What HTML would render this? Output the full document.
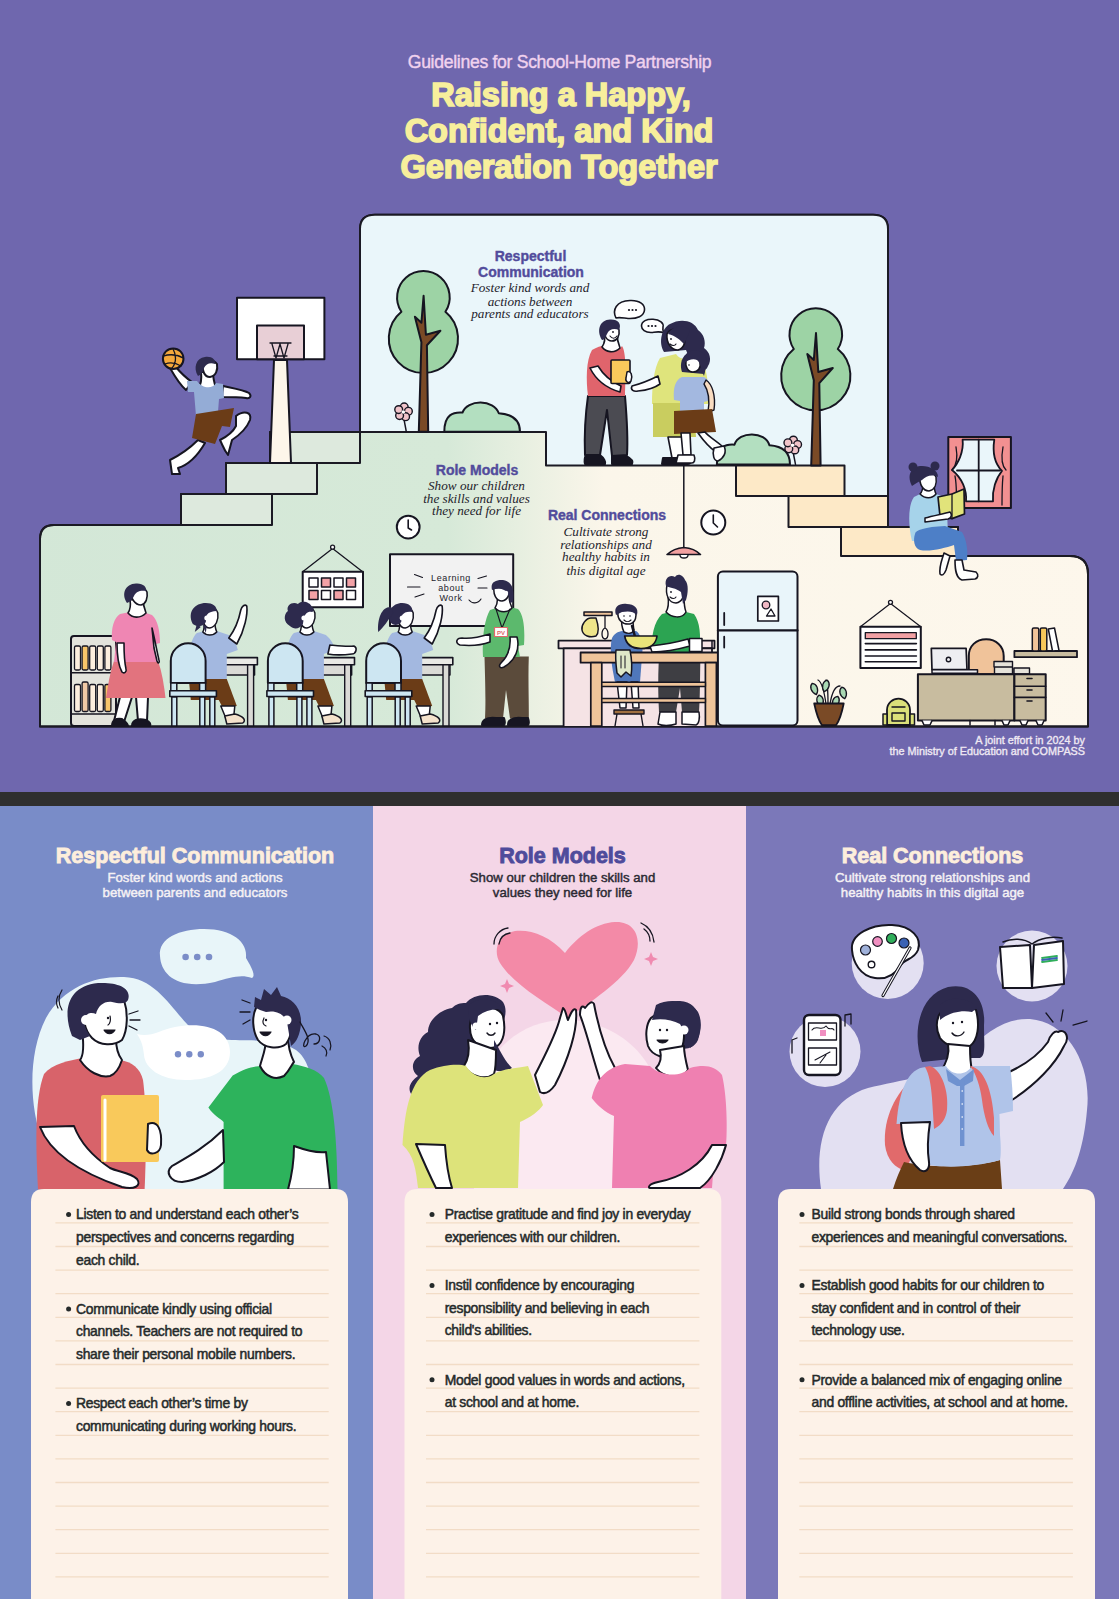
<!DOCTYPE html>
<html><head><meta charset="utf-8">
<style>
html,body{margin:0;padding:0;width:1119px;height:1599px;overflow:hidden;background:#6f67ae;}
svg{display:block;position:absolute;left:0;top:0;}
text{font-family:"Liberation Sans",sans-serif;}
.hd{font-weight:bold;}
.scr text{font-family:"Liberation Serif",serif;font-style:italic;}
.bl{font-size:13.9px;fill:#252a2a;letter-spacing:-0.28px;stroke:#252a2a;stroke-width:0.5px;}
</style></head>
<body>
<svg width="1119" height="1599" viewBox="0 0 1119 1599">
<defs>
<linearGradient id="gfloor" x1="0" y1="0" x2="1119" y2="0" gradientUnits="userSpaceOnUse">
<stop offset="0" stop-color="#d3e7d7"/><stop offset="0.40" stop-color="#d6e9d8"/><stop offset="0.54" stop-color="#fbf6ea"/><stop offset="1" stop-color="#fdf7ec"/>
</linearGradient>
</defs>
<!-- top bg -->
<rect x="0" y="0" width="1119" height="792" fill="#6f67ae"/>
<rect x="0" y="792" width="1119" height="14" fill="#2f2f2f"/>
<!-- columns -->
<rect x="0" y="806" width="373" height="793" fill="#798cc8"/>
<rect x="373" y="806" width="373" height="793" fill="#f4d6e7"/>
<rect x="746" y="806" width="373" height="793" fill="#7b78b9"/>

<!-- header text -->
<text x="559.5" y="68" text-anchor="middle" font-size="17.6" letter-spacing="-0.3" fill="#f1d2ee" stroke="#f1d2ee" stroke-width="0.4">Guidelines for School-Home Partnership</text>
<g class="hd" font-size="32.5" fill="#f7ef9c" stroke="#f7ef9c" stroke-width="1.6" text-anchor="middle">
<text x="561" y="105.5">Raising a Happy,</text>
<text x="559" y="142">Confident, and Kind</text>
<text x="559" y="177.5">Generation Together</text>
</g>

<!-- SCENE -->
<g id="scene" stroke="#1b1a24" stroke-width="2" stroke-linejoin="round" stroke-linecap="round">
<!-- whole building fill -->
<path d="M40,726.5 V539 Q40,525 54,525 H181 V494 H226 V463 H270 V432 H360 V229 Q360,214.7 375,214.7 H873 Q888,214.7 888,229 V527 H958 V556 H1070 Q1088,556 1088,574 V726.5 Z" fill="url(#gfloor)"/>
<!-- sky -->
<path d="M360,432 V229 Q360,214.7 375,214.7 H873 Q888,214.7 888,229 V496 H844.5 V465.6 H546 V432 Z" fill="#eaf6fa" stroke="none"/>
<!-- left steps -->
<path d="M181,525 V494 H272 V525 Z" fill="#dde9dd"/>
<path d="M226,494 V463 H317 V494 Z" fill="#dde9dd"/>
<path d="M270,463 V432 H360 V463 Z" fill="#dde9dd"/>
<!-- right steps -->
<path d="M736,496 V465.6 H844.5 V496 Z" fill="#fde9c7"/>
<path d="M788.5,527 V496 H888 V527 Z" fill="#fde9c7"/>
<path d="M841,556 V527 H958 V556 Z" fill="#fde9c7"/>
<!-- platform line -->
<path d="M360,432 H546 V465.6 H736" fill="none"/>
<!-- outline again on top -->
<path d="M40,726.5 V539 Q40,525 54,525 H181 M360,432 V229 Q360,214.7 375,214.7 H873 Q888,214.7 888,229 V496 M958,556 H1070 Q1088,556 1088,574 V726.5 H40" fill="none"/>
</g>

<!--SCENE_A-->
<g id="sceneA" stroke="#161521" stroke-width="2" stroke-linejoin="round" stroke-linecap="round">
<!-- hoop -->
<rect x="237" y="297.7" width="87.4" height="61.5" fill="#ffffff"/>
<rect x="257" y="325.6" width="47" height="33.6" fill="#e8cfd6"/>
<path d="M274,360 L270,463 L291,463 L287,360 Z" fill="#fdf6ea"/>
<path d="M270,343 H291 M272,344 L276,358 L280,344 L284,358 L288,344 M274,356 H287" fill="none" stroke-width="1.3"/>
<!-- player -->
<path d="M186,390 C180,385 174,375 170,368 C168,364 172,362 175,366 C180,372 186,378 192,382 Z" fill="#ffffff"/>
<circle cx="173.2" cy="358.7" r="10.3" fill="#f5a93c"/>
<path d="M163,356 C170,354 178,355 183,358 M173,349 C176,354 177,362 172,368 M165,364 C170,362 176,363 181,366" fill="none" stroke-width="1.3"/>
<path d="M223,386 C232,388 244,390 249,393 C252,396 250,399 246,398 C238,397 230,397 222,397 Z" fill="#ffffff"/>
<path d="M201,372 C202,380 200,386 198,389 C204,394 212,394 216,388 C214,382 213,376 213,372 Z" fill="#ffffff"/>
<path d="M203,364 C207,358 214,360 217,364 C218,370 216,376 210,377 C204,377 202,370 203,364 Z" fill="#ffffff"/>
<path d="M198,376 C193,368 196,358 205,357 C212,356 216,360 215,364 C210,362 206,364 204,368 C203,372 202,374 198,376 Z" fill="#2d2a4d" stroke="none"/>
<path d="M187,381 L197,381 C202,388 212,390 216,383 L223,384 L224,398 L219,399 L218,412 L196,416 L194,392 L188,392 Z" fill="#94acd6" stroke="none"/>
<path d="M172,474 L170,460 C180,455 190,448 198,440 L205,443 C198,455 188,465 178,468 L180,474 Z" fill="#ffffff"/>
<path d="M236,416 C244,410 252,412 250,420 C246,430 238,436 232,440 L228,455 C224,450 223,446 220,440 C228,436 234,430 236,426 Z" fill="#ffffff"/>
<path d="M196,414 L234,408 L230,427 L222,426 L215,444 L192,438 Z" fill="#6b3c17" stroke="none"/>
</g>
<!--/SCENE_A-->
<!--SCENE_B-->
<g id="sceneB" stroke="#161521" stroke-width="2" stroke-linejoin="round" stroke-linecap="round">
<path d="M401.4,311.8 A26.3,26.3 0 1 1 445.4,311.8 A34.6,34.6 0 1 1 401.4,311.8 Z" fill="#9dd3a5"/>
<path d="M418.79999999999995,431.8 L421.4,342.2 L414.9,316.8 L421.4,322.8 L423.59999999999997,295.8 L425.9,334.8 L440.4,330.8 L426.9,345.2 L428.2,431.8 Z" fill="#7a4a26"/><path d="M403.3,415 C404.3,422 405.3,425.8 406.3,431.8" fill="none" stroke-width="1.5"/><circle cx="404.2" cy="406.9" r="3.9" fill="#f0c3c9" stroke-width="1.4"/><circle cx="408.4" cy="411.3" r="3.9" fill="#f0c3c9" stroke-width="1.4"/><circle cx="405.6" cy="416.7" r="3.9" fill="#f0c3c9" stroke-width="1.4"/><circle cx="399.6" cy="415.6" r="3.9" fill="#f0c3c9" stroke-width="1.4"/><circle cx="398.7" cy="409.6" r="3.9" fill="#f0c3c9" stroke-width="1.4"/><circle cx="403.3" cy="412" r="1.8" fill="#ffffff" stroke="none"/><path d="M444.3,431.8 C444.3,414.2 453.384,411.96000000000004 462.468,412.6 C467.01,399.16 494.262,399.16 498.804,413.24 C512.4300000000001,414.2 520,420.6 520,431.8 Z" fill="#b3dfc0"/><path d="M793.8,349 A26.3,26.3 0 1 1 837.8,349 A34.6,34.6 0 1 1 793.8,349 Z" fill="#9dd3a5"/>
<path d="M811.1999999999999,465.6 L813.8,380.2 L807.3,354 L813.8,360 L816.0,333 L818.3,372 L832.8,368 L819.3,383.2 L820.5999999999999,465.6 Z" fill="#7a4a26"/><path d="M792.5,448.2 C793.5,455.2 794.5,458.5 795.5,464.5" fill="none" stroke-width="1.5"/><circle cx="793.4" cy="440.1" r="3.9" fill="#f0c3c9" stroke-width="1.4"/><circle cx="797.6" cy="444.5" r="3.9" fill="#f0c3c9" stroke-width="1.4"/><circle cx="794.8" cy="449.9" r="3.9" fill="#f0c3c9" stroke-width="1.4"/><circle cx="788.8" cy="448.8" r="3.9" fill="#f0c3c9" stroke-width="1.4"/><circle cx="787.9" cy="442.8" r="3.9" fill="#f0c3c9" stroke-width="1.4"/><circle cx="792.5" cy="445.2" r="1.8" fill="#ffffff" stroke="none"/><path d="M716.9,464.5 C716.9,446.35 725.672,444.04 734.444,444.7 C738.8299999999999,430.84 765.146,430.84 769.532,445.36 C782.69,446.35 790,452.95 790,464.5 Z" fill="#b3dfc0"/>
<!-- speech bubbles -->
<path d="M616,318 C612,310 616,301 630,300.5 C640,300 645,305 644.5,310 C644,316 637,319 628,318.5 C623,318 619,317 616,318 Z" fill="#ffffff" stroke-width="1.6"/>
<path d="M664,333 C660,331 656,332 652,332.5 C645,333 641.5,329 641.5,326 C641.5,321 647,319 653,319.3 C660,319.6 664,323 663,327 C662.5,329 663,331 664,333 Z" fill="#ffffff" stroke-width="1.6"/>
<g fill="#161521" stroke="none"><circle cx="629" cy="310" r="1.1"/><circle cx="632.5" cy="310" r="1.1"/><circle cx="636" cy="310" r="1.1"/><circle cx="648.5" cy="326" r="1.1"/><circle cx="652" cy="326" r="1.1"/><circle cx="655.5" cy="326" r="1.1"/></g>
<!-- man -->
<path d="M585,455 C584,430 586,410 588,396 L625,396 C627,420 628,440 627,455 L612,456 L607,410 L600,455 Z" fill="#4b4b52"/>
<path d="M586,455 L600,455 C604,458 606,462 605,464 L585,464 C584,460 585,457 586,455 Z M612,456 L626,456 C632,459 633,462 632,464 L612,464 Z" fill="#161521"/>
<path d="M588,396 C586,380 586,360 592,350 C598,346 604,345 608,346 C612,352 618,352 622,346 C626,352 626,370 625,396 Z" fill="#e0646c" stroke="none"/>
<path d="M590,368 C596,380 606,388 620,392 L621,386 C612,382 604,376 598,366 Z" fill="#ffffff" stroke-width="1.6"/>
<path d="M604,334 C606,340 604,344 602,347 C606,352 614,354 620,348 C618,343 617,338 617,333 Z" fill="#ffffff" stroke-width="1.6"/>
<path d="M605,328 C609,323 617,324 619,330 C620,336 617,341 612,341 C606,341 603,334 605,328 Z" fill="#ffffff" stroke-width="1.6"/>
<path d="M602,340 C596,330 600,320 610,319.5 C618,319 622,324 619,330 C614,328 609,329 607,334 C605,338 604,340 602,340 Z" fill="#2d2a4d" stroke="none"/><circle cx="613" cy="332" r="0.9" fill="#161521" stroke="none"/><path d="M610,336 C612,339 615,339 617,336" fill="none" stroke-width="1.1"/>
<rect x="611" y="360" width="19" height="23.5" rx="1" fill="#f9c95b" stroke-width="1.6"/>
<path d="M627,372 C631,370 633,376 631,381 C629,384 625,382 626,378 Z" fill="#ffffff" stroke-width="1.5"/>
<!-- woman -->
<path d="M664,352 C658,342 662,328 670,324 C680,318 694,320 698,330 C704,334 706,342 704,348 C710,352 712,360 708,366 C706,372 700,372 694,370 L686,350 Z" fill="#2d2a4d" stroke="none"/>
<path d="M667,334 C670,328 680,327 684,334 C686,342 684,348 678,350 C672,350 666,344 667,334 Z" fill="#ffffff" stroke-width="1.6"/>
<path d="M668,334 C672,326 682,324 690,330 C688,336 686,340 684,344 C680,340 676,336 668,334 Z" fill="#2d2a4d" stroke="none"/>
<circle cx="671" cy="339" r="0.9" fill="#161521" stroke="none"/><path d="M670,344 C672,346 675,346 676,344" fill="none" stroke-width="1.1"/>
<path d="M652,404 C652,385 654,368 660,358 L676,354 C680,360 688,360 692,356 L702,360 C708,372 709,390 708,404 Z" fill="#dfe47c" stroke="none"/>
<path d="M653,403 L694,403 L696,437 L653,437 Z" fill="#c9cd5f" stroke="none"/>
<path d="M658,376 C650,380 640,384 632,386 C630,390 634,392 638,391 C648,390 656,387 660,384 Z" fill="#ffffff" stroke-width="1.6"/>
<path d="M668,437 L672,458 L686,458 L684,437 Z" fill="#ffffff" stroke-width="1.6"/>
<path d="M663,458 L690,458 C692,462 690,464 688,464 L662,464 Z" fill="#161521"/>
<!-- girl -->
<path d="M682,372 C678,360 686,350 696,351 C706,352 708,362 704,374 Z" fill="#2d2a4d" stroke="none"/>
<path d="M686,360 C690,356 698,357 700,362 C701,368 698,372 693,372 C688,372 685,367 686,360 Z" fill="#ffffff" stroke-width="1.5"/><path d="M684.5,363 C683,354 690,349.5 697,350.5 C705,351.5 708,358 706,367 L704,376 C701,370 701,363 697,360 C693,358 688,360 684.5,363 Z" fill="#2d2a4d" stroke="none"/><circle cx="689" cy="365" r="0.8" fill="#161521" stroke="none"/>
<path d="M674,400 C673,388 675,380 682,377 L704,377 C710,380 712,388 711,400 L704,402 L704,410 L680,411 L680,401 Z" fill="#a3b8e0" stroke="none"/>
<path d="M706,380 C712,384 716,395 714,410 L708,412 C710,400 708,390 704,384 Z" fill="#f9dcc0" stroke-width="1.4"/>
<path d="M674,411 L712,409 L716,432 L674,434 Z" fill="#6b3c17" stroke="none"/>
<path d="M681,433 L683,455 L691,455 L690,433 Z M698,433 C703,440 710,448 716,452 L722,446 C715,440 708,436 705,432 Z" fill="#ffffff" stroke-width="1.6"/>
<path d="M678,455 L694,455 C696,460 694,463 692,463 L676,463 Z" fill="#ffffff" stroke-width="1.6"/>
<path d="M714,448 L724,446 C727,452 724,458 718,461 C714,461 712,455 714,448 Z" fill="#ffffff" stroke-width="1.6"/>
</g>
<!--/SCENE_B-->
<!--SCENE_C-->
<g id="sceneC" stroke="#161521" stroke-width="2" stroke-linejoin="round" stroke-linecap="round">
<circle cx="408.2" cy="527.1" r="11.4" fill="#ffffff" stroke-width="2"/><path d="M408.2,520 V528 L411.5,530" fill="none" stroke-width="1.6"/>
<path d="M302.7,571.8 L332.6,548.5 L362.6,571.8" fill="none" stroke-width="1.3"/><circle cx="332.6" cy="547.2" r="2" fill="#ffffff" stroke-width="1.3"/>
<rect x="302.7" y="571.8" width="60.3" height="35.4" fill="#ffffff" stroke-width="2"/>
<rect x="309" y="578" width="9" height="9" fill="#ffffff" stroke-width="1.5"/>
<rect x="321.5" y="578" width="9" height="9" fill="#f2a1a6" stroke-width="1.5"/>
<rect x="334" y="578" width="9" height="9" fill="#ffffff" stroke-width="1.5"/>
<rect x="346.5" y="578" width="9" height="9" fill="#f2a1a6" stroke-width="1.5"/>
<rect x="309" y="590.6" width="9" height="9" fill="#f2a1a6" stroke-width="1.5"/>
<rect x="321.5" y="590.6" width="9" height="9" fill="#ffffff" stroke-width="1.5"/>
<rect x="334" y="590.6" width="9" height="9" fill="#f2a1a6" stroke-width="1.5"/>
<rect x="346.5" y="590.6" width="9" height="9" fill="#ffffff" stroke-width="1.5"/>
<rect x="390" y="554.2" width="123.2" height="71.8" fill="#f2f2f2" stroke-width="2"/>
<g font-family="Liberation Sans" font-size="9" fill="#24232c" stroke="none" text-anchor="middle"><text x="451" y="581" letter-spacing="0.6">Learning</text><text x="451" y="590.5" letter-spacing="0.6">about</text><text x="451" y="601" letter-spacing="0.6">Work</text></g>
<path d="M414.5,574.5 L422.5,577.5 M407.5,587 L420,587 M415,597 L424,594 M478,578.5 L486.5,576 M478,588 L487,588 M469,600 C472,604 478,604 481,599" fill="none" stroke-width="1.1"/>
<rect x="71" y="636" width="45" height="90" rx="3" fill="#e3e3dc"/>
<path d="M71,672.8 H116 M71,714 H116" stroke-width="1.6"/>
<rect x="74.5" y="646" width="6" height="24" rx="1.5" fill="#fdeede" stroke-width="1.3"/>
<rect x="82.1" y="646" width="6" height="24" rx="1.5" fill="#f8c56a" stroke-width="1.3"/>
<rect x="89.7" y="646" width="6" height="24" rx="1.5" fill="#fdeede" stroke-width="1.3"/>
<rect x="97.3" y="646" width="6" height="24" rx="1.5" fill="#fdeede" stroke-width="1.3"/>
<rect x="104.9" y="646" width="6" height="24" rx="1.5" fill="#fdeede" stroke-width="1.3"/>
<rect x="74.5" y="684.5" width="6" height="27.0" rx="1.5" fill="#fdeede" stroke-width="1.3"/>
<rect x="82.1" y="682" width="6" height="29.5" rx="1.5" fill="#f0c9a6" stroke-width="1.3"/>
<rect x="89.7" y="684.5" width="6" height="27.0" rx="1.5" fill="#fdeede" stroke-width="1.3"/>
<rect x="97.3" y="684.5" width="6" height="27.0" rx="1.5" fill="#fdeede" stroke-width="1.3"/>
<rect x="104.9" y="684.5" width="6" height="27.0" rx="1.5" fill="#f8c56a" stroke-width="1.3"/>
<path d="M114,721 L120,697 L132,697 L124,722 Z M136,697 L148,697 L147,721 L138,721 Z" fill="#ffffff"/>
<path d="M112,726 C112,720 116,718 122,719 C126,722 128,724 128,726 Z M132,726 C132,720 138,718 146,720 C150,722 151,724 150,726 Z" fill="#161521"/>
<path d="M106,698 C108,685 110,672 114,661 L158,661 C162,672 164,685 165.5,698 Z" fill="#e2737e" stroke="none"/>
<path d="M112,640 C111,628 114,618 120,614 L130,612 C134,618 142,619 146,613 L152,615 C158,620 160,632 160,643 L156,644 L157,662 L114,662 L116,642 Z" fill="#ef86b3" stroke="none"/>
<path d="M117,643 C117,655 118,665 122,672 C124,674 127,672 126,669 C124,660 124,650 124,643 Z M152,628 C155,640 157,652 159,660 C160,663 158,664 157,661 L154,648 Z" fill="#ffffff" stroke-width="1.6"/>
<path d="M130,600 C131,606 130,610 128,613 C132,618 140,619 146,613 C144,608 143,603 143,598 Z" fill="#ffffff" stroke-width="1.6"/>
<path d="M131,590 C135,585 144,586 147,592 C148,598 146,604 141,605 C135,605 130,598 131,590 Z" fill="#ffffff" stroke-width="1.6"/>
<path d="M127,603 C121,594 125,584 136,583.5 C143,583 147,587 146,591 C141,590 136,591 134,596 C132,600 130,602 127,603 Z" fill="#2d2a4d" stroke="none"/>
<path d="M221.60000000000002,657.6 H257.40000000000003 V664.7 H221.60000000000002 Z" fill="#e9e9e5" stroke-width="1.6"/>
<path d="M221.60000000000002,664.7 H254.60000000000002 V675 H221.60000000000002 Z" fill="#dadad6" stroke-width="1.4"/>
<path d="M247.60000000000002,664.7 H253.60000000000002 V726 H247.60000000000002 Z" fill="#dadad6" stroke-width="1.4"/>
<path d="M186.8,681 C186.8,665 188.8,640 196.8,633 L204.8,631 C208.8,636 214.8,636 216.8,631 L228.8,635 C234.8,640 236.8,645 237.8,650 L226.8,654 L226.8,681 Z" fill="#a3b8e0" stroke="none"/>
<path d="M188.8,679 L226.8,679 C230.8,690 234.8,700 236.8,706 L222.8,708 L218.8,700 L190.8,700 Z" fill="#6b3c17" stroke="none"/>
<path d="M220.8,706 L225.8,718 L233.8,716 L234.8,706 Z" fill="#ffffff" stroke-width="1.5"/>
<path d="M224.8,716 L234.8,714 C242.8,716 246.8,720 242.8,723 L226.8,724 Z" fill="#f4e2cc" stroke-width="1.5"/>
<path d="M203.8,622 C204.8,627 203.8,630 202.8,632 C206.8,636 212.8,636 216.8,632 C214.8,628 214.8,624 214.8,620 Z" fill="#ffffff" stroke-width="1.5"/>
<path d="M203.8,612 C206.8,606 215.8,606 217.8,613 C218.8,620 215.8,627 209.8,628 C203.8,628 201.8,620 203.8,612 Z" fill="#ffffff" stroke-width="1.5"/>
<path d="M192.8,624 C186.8,612 194.8,603 205.8,603 C212.8,603 216.8,606 216.8,611 C212.8,611 208.8,612 206.8,615 L205.8,622 C203.8,626 198.8,628 192.8,624 Z" fill="#2d2a4d" stroke="none"/>
<path d="M196.8,624 L194.8,632 L200.8,627 Z M202.8,625 L205.8,633 L206.8,626 Z" fill="#2d2a4d" stroke="none"/>
<circle cx="206.8" cy="618" r="2.5" fill="#ffffff" stroke="none"/>
<path d="M228.8,638 C234.8,630 238.8,620 240.8,610 C241.8,606 244.8,604 246.8,606 C247.8,614 244.8,630 236.8,644 Z" fill="#ffffff" stroke-width="1.6"/>
<path d="M170.8,683 V661 C170.8,651 178.8,643.3 188.20000000000002,643.3 C197.8,643.3 205.60000000000002,651 205.60000000000002,661 V683 Z" fill="#cde6f2"/>
<path d="M170.8,683 H176.8 V690.7 H170.8 Z M199.60000000000002,683 H205.60000000000002 V690.7 H199.60000000000002 Z" fill="#cde6f2" stroke-width="1.5"/>
<path d="M169.8,690.7 H216.4 V696.5 H169.8 Z" fill="#cde6f2" stroke-width="1.6"/>
<path d="M171.8,697 H176.8 V726 H171.8 Z M199.8,697 H204.8 V726 H199.8 Z M209.8,697 H214.8 V726 H209.8 Z" fill="#cde6f2" stroke-width="1.5"/>
<path d="M318.7,657.6 H354.5 V664.7 H318.7 Z" fill="#e9e9e5" stroke-width="1.6"/>
<path d="M318.7,664.7 H351.7 V675 H318.7 Z" fill="#dadad6" stroke-width="1.4"/>
<path d="M344.7,664.7 H350.7 V726 H344.7 Z" fill="#dadad6" stroke-width="1.4"/>
<path d="M283.9,681 C283.9,665 285.9,640 293.9,633 L301.9,631 C305.9,636 311.9,636 313.9,631 L325.9,635 C331.9,640 333.9,645 334.9,650 L323.9,654 L323.9,681 Z" fill="#a3b8e0" stroke="none"/>
<path d="M285.9,679 L323.9,679 C327.9,690 331.9,700 333.9,706 L319.9,708 L315.9,700 L287.9,700 Z" fill="#6b3c17" stroke="none"/>
<path d="M317.9,706 L322.9,718 L330.9,716 L331.9,706 Z" fill="#ffffff" stroke-width="1.5"/>
<path d="M321.9,716 L331.9,714 C339.9,716 343.9,720 339.9,723 L323.9,724 Z" fill="#f4e2cc" stroke-width="1.5"/>
<path d="M300.9,622 C301.9,627 300.9,630 299.9,632 C303.9,636 309.9,636 313.9,632 C311.9,628 311.9,624 311.9,620 Z" fill="#ffffff" stroke-width="1.5"/>
<path d="M300.9,612 C303.9,606 312.9,606 314.9,613 C315.9,620 312.9,627 306.9,628 C300.9,628 298.9,620 300.9,612 Z" fill="#ffffff" stroke-width="1.5"/>
<path d="M289.9,626 C282.9,622 283.9,614 287.9,611 C285.9,605 292.9,601 297.9,604 C301.9,600 309.9,602 311.9,607 C314.9,608 313.9,612 311.9,612 C307.9,611 304.9,614 303.9,618 L302.9,624 C299.9,629 293.9,630 289.9,626 Z" fill="#2d2a4d" stroke="none"/>
<circle cx="303.9" cy="618" r="2.5" fill="#ffffff" stroke="none"/>
<path d="M329.9,645 C339.9,646 347.9,647 353.9,646 C357.9,648 355.9,654 351.9,654 C343.9,655 333.9,655 327.9,654 Z" fill="#ffffff" stroke-width="1.6"/>
<path d="M267.9,683 V661 C267.9,651 275.9,643.3 285.29999999999995,643.3 C294.9,643.3 302.7,651 302.7,661 V683 Z" fill="#cde6f2"/>
<path d="M267.9,683 H273.9 V690.7 H267.9 Z M296.7,683 H302.7 V690.7 H296.7 Z" fill="#cde6f2" stroke-width="1.5"/>
<path d="M266.9,690.7 H313.5 V696.5 H266.9 Z" fill="#cde6f2" stroke-width="1.6"/>
<path d="M268.9,697 H273.9 V726 H268.9 Z M296.9,697 H301.9 V726 H296.9 Z M306.9,697 H311.9 V726 H306.9 Z" fill="#cde6f2" stroke-width="1.5"/>
<path d="M417.0,657.6 H452.8 V664.7 H417.0 Z" fill="#e9e9e5" stroke-width="1.6"/>
<path d="M417.0,664.7 H450.0 V675 H417.0 Z" fill="#dadad6" stroke-width="1.4"/>
<path d="M443.0,664.7 H449.0 V726 H443.0 Z" fill="#dadad6" stroke-width="1.4"/>
<path d="M382.2,681 C382.2,665 384.2,640 392.2,633 L400.2,631 C404.2,636 410.2,636 412.2,631 L424.2,635 C430.2,640 432.2,645 433.2,650 L422.2,654 L422.2,681 Z" fill="#a3b8e0" stroke="none"/>
<path d="M384.2,679 L422.2,679 C426.2,690 430.2,700 432.2,706 L418.2,708 L414.2,700 L386.2,700 Z" fill="#6b3c17" stroke="none"/>
<path d="M416.2,706 L421.2,718 L429.2,716 L430.2,706 Z" fill="#ffffff" stroke-width="1.5"/>
<path d="M420.2,716 L430.2,714 C438.2,716 442.2,720 438.2,723 L422.2,724 Z" fill="#f4e2cc" stroke-width="1.5"/>
<path d="M399.2,622 C400.2,627 399.2,630 398.2,632 C402.2,636 408.2,636 412.2,632 C410.2,628 410.2,624 410.2,620 Z" fill="#ffffff" stroke-width="1.5"/>
<path d="M399.2,612 C402.2,606 411.2,606 413.2,613 C414.2,620 411.2,627 405.2,628 C399.2,628 397.2,620 399.2,612 Z" fill="#ffffff" stroke-width="1.5"/>
<path d="M390.2,622 C386.2,612 392.2,603 402.2,603 C409.2,603 413.2,607 412.2,612 C408.2,611 404.2,612 402.2,615 L401.2,622 C398.2,626 393.2,626 390.2,622 Z" fill="#2d2a4d" stroke="none"/>
<path d="M391.2,607 C382.2,606 377.2,618 378.2,632 C383.2,628 388.2,620 393.2,613 Z" fill="#2d2a4d" stroke="none"/>
<circle cx="402.2" cy="618" r="2.5" fill="#ffffff" stroke="none"/>
<path d="M424.2,638 C430.2,630 434.2,620 436.2,610 C437.2,606 440.2,604 442.2,606 C443.2,614 440.2,630 432.2,644 Z" fill="#ffffff" stroke-width="1.6"/>
<path d="M366.2,683 V661 C366.2,651 374.2,643.3 383.59999999999997,643.3 C393.2,643.3 401.0,651 401.0,661 V683 Z" fill="#cde6f2"/>
<path d="M366.2,683 H372.2 V690.7 H366.2 Z M395.0,683 H401.0 V690.7 H395.0 Z" fill="#cde6f2" stroke-width="1.5"/>
<path d="M365.2,690.7 H411.8 V696.5 H365.2 Z" fill="#cde6f2" stroke-width="1.6"/>
<path d="M367.2,697 H372.2 V726 H367.2 Z M395.2,697 H400.2 V726 H395.2 Z M405.2,697 H410.2 V726 H405.2 Z" fill="#cde6f2" stroke-width="1.5"/>
<path d="M485,718.5 C486,700 485,675 484.5,656.6 L528.8,656.6 C528,680 529,700 528.8,718.5 L510,718.5 L506,690 L503,718.5 Z" fill="#5b4b3b" stroke="none"/>
<path d="M482,725 C482,720 486,717 496,718 L504,718 C505,721 505,724 504,725 Z M508,725 C508,720 512,717 522,718 L528,718 C529,721 529,724 528,725 Z" fill="#161521"/>
<path d="M483,657 C482,640 484,620 490,610 L498,607.5 C502,612 508,612 512,607.5 L518,609 C524,615 525,630 524,645 L518,646 L520,657 Z" fill="#5cb96d" stroke="none"/>
<path d="M490,634 C480,637 470,639 462,638 C456,638 455,643 460,645 C470,646 482,645 490,642 Z" fill="#ffffff" stroke-width="1.6"/>
<path d="M517,637 C520,648 516,660 504,667 C500,669 498,666 501,663 C508,656 511,648 510,637 Z" fill="#ffffff" stroke-width="1.6"/>
<path d="M497,596 C498,601 497,605 495,608 C500,613 508,613 512,608 C510,604 509,600 509,595 Z" fill="#ffffff" stroke-width="1.5"/>
<path d="M494,587 C497,581 507,581 509,588 C510,594 508,600 502,601 C496,601 493,594 494,587 Z" fill="#ffffff" stroke-width="1.5"/>
<path d="M492,590 C490,582 496,579.5 503,580 C511,581 515,588 513,602 L510,603 C509,596 508,592 504,590 C500,588 496,589 492,590 Z" fill="#2d2a4d" stroke="none"/>
<circle cx="506" cy="593" r="2.2" fill="#ffffff" stroke="none"/>
<path d="M496,609 L502,628 L510,609" fill="none" stroke-width="1.1"/>
<rect x="494.5" y="627.5" width="13" height="9" fill="#ffffff" stroke="#e06a6a" stroke-width="1.2"/>
<text x="501" y="635" font-size="6" font-weight="bold" fill="#e06a6a" stroke="none" text-anchor="middle">PV</text>
</g>
<!--/SCENE_C-->
<!--SCENE_D-->
<g id="sceneD" stroke="#161521" stroke-width="2" stroke-linejoin="round" stroke-linecap="round">
<path d="M683.8,465.6 V548" stroke-width="1.5"/>
<path d="M667,554.5 C672,550 678,548 683.8,547.5 C690,548 696,550 700.5,554.5 Z" fill="#f2a0a0" stroke-width="1.6"/>
<path d="M680,555 C680,559 688,559 688,555" fill="#ffffff" stroke-width="1.3"/>
<circle cx="713.3" cy="522.5" r="12" fill="#ffffff" stroke-width="2"/><path d="M713.3,515 V523 L717.5,527" fill="none" stroke-width="1.6"/>
<rect x="558.5" y="640.7" width="156" height="7.6" fill="#f5e3e5" stroke-width="1.8"/>
<path d="M563.6,726 V648.3 H712 V726" fill="#f5e3e5" stroke-width="1.8"/>
<path d="M700,648.3 H712 V640.7" fill="none" stroke-width="1.5"/>
<path d="M584,612 H612 V615.5 H584 Z" fill="#efc49a" stroke-width="1.5"/>
<path d="M591,618 C586,618 581,625 582,630 C583,636 590,638 596,636 C600,632 598,624 596,618 Z" fill="#eee58a" stroke-width="1.5"/>
<path d="M605,615.5 V628 M605,628 C601,630 601,638 605,639 C609,638 609,630 605,628 Z" fill="none" stroke-width="1.3"/>
<path d="M615,682 C612,668 609,650 612,638 C615,632 620,631 624,631 L636,631 C640,633 642,640 642.5,650 L640,682 Z" fill="#4f77bb" stroke="none"/>
<path d="M617,682 L620,708 L626,708 L627,682 Z M631,682 L633,708 L639,708 L638,682 Z" fill="#ffffff" stroke-width="1.5"/>
<path d="M614,710 H644 V714 H614 Z M617,714 L615,726 M641,714 L643,726" fill="#a07040" stroke-width="1.4"/>
<path d="M622,618 C621,624 622,628 624,632 C628,634 632,634 634,630 C633,626 633,622 633,618 Z" fill="#ffffff" stroke-width="1.5"/>
<path d="M618,612 C620,606 630,605 635,610 C637,616 636,622 630,624 C622,625 617,619 618,612 Z" fill="#ffffff" stroke-width="1.5"/>
<path d="M616,615 C613,606 620,603 627,604 C634,604 639,608 637,615 C633,611 628,611 622,612 C620,613 618,614 616,615 Z" fill="#2d2a4d" stroke="none"/><circle cx="624" cy="616" r="0.8" fill="#161521" stroke="none"/><circle cx="630" cy="616" r="0.8" fill="#161521" stroke="none"/><path d="M624,620 C626,622 629,622 631,620" fill="none" stroke-width="1.1"/>
<path d="M659,712 C658,695 658,678 658.7,661.9 L700.3,661.9 C700,680 700,698 699,712 L682,712 L680,688 L676,712 Z" fill="#3e3e43" stroke="none"/>
<path d="M660,712 L676,712 L676,724 C670,726 662,726 658,724 Z M682,712 L699,712 C700,718 699,724 696,725 L682,724 Z" fill="#ffffff" stroke-width="1.5"/>
<path d="M652,652 C651,636 654,622 662,614 L670,612 C674,617 682,617 686,612 L694,614 C700,622 701,635 699.4,652 Z" fill="#2ca452" stroke="none"/>
<path d="M668,596 C669,604 668,609 666,612 C672,618 682,619 686,612 C684,607 684,601 684,596 Z" fill="#ffffff" stroke-width="1.5"/>
<path d="M667,585 C671,579 681,580 684,588 C685,596 682,602 676,603 C669,603 665,595 667,585 Z" fill="#ffffff" stroke-width="1.5"/>
<path d="M666,586 C664,578 670,574 675,577 C678,572 684,576 685,580 C689,584 688,594 686,600 L683,604 L681,592 C676,588 670,588 666,586 Z" fill="#2d2a4d" stroke="none"/><circle cx="671" cy="592" r="0.9" fill="#161521" stroke="none"/><path d="M670,597 C672,599 675,599 676,597" fill="none" stroke-width="1.1"/>
<path d="M650,646 C660,645 674,643 688,639 L690,646 C676,650 662,652 652,652 Z" fill="#ffffff" stroke-width="1.5"/>
<path d="M632,626 L636,640" stroke-width="2.5"/>
<path d="M624.7,636 H657 C656,644 650,648.5 641,648.5 C632,648.5 626,644 624.7,636 Z" fill="#e9e47a" stroke-width="1.7"/>
<path d="M689.5,638.5 H702 V651.5 H689.5 Z" fill="#ffffff" stroke-width="1.5"/>
<rect x="580.6" y="652.5" width="146.8" height="10.2" fill="#efc49a" stroke-width="1.8"/>
<path d="M590.8,662.7 H601.8 V726 H590.8 Z M705.4,662.7 H716.4 V726 H705.4 Z" fill="#efc49a" stroke-width="1.7"/>
<path d="M601.8,682.3 H705.4 V686.5 H601.8 Z M601.8,698.4 H705.4 V702.6 H601.8 Z" fill="#efc49a" stroke-width="1.5"/>
<path d="M616,650 L630,650 C632,660 632,670 631,676 L626,672 L621,677 L617,673 C616,665 615,658 616,650 Z" fill="#dfe8c8" stroke-width="1.5"/><path d="M621,656 V668 M625,656 V668" stroke-width="1"/>
<rect x="717.9" y="571.4" width="79.6" height="154" rx="5" fill="#e9f5fa" stroke-width="2"/>
<path d="M717.9,630.4 H797.5" stroke-width="2.2"/><path d="M724.2,613 V625 M724.2,636.7 V647.5" stroke-width="1.8"/>
<rect x="757.8" y="596.4" width="20.6" height="24.6" fill="#ffffff" stroke-width="1.7"/><circle cx="766" cy="605" r="3.8" fill="#f0b8c4" stroke-width="1.3"/><path d="M766.5,616 L771,609 L775,616 Z" fill="#ffffff" stroke-width="1.3"/>
<path d="M826,704 C824,690 822,682 818,680 M830,704 C832,692 836,686 840,686 M828,704 C828,690 828,684 826,680" fill="none" stroke-width="1.3"/><path d="M0,-5 C4,-3 4.5,3 0,7 C-4.5,3 -4,-3 0,-5 Z" transform="translate(814,688) rotate(-20)" fill="#a9d8b3" stroke-width="1.3"/><path d="M0,-5 C4,-3 4.5,3 0,7 C-4.5,3 -4,-3 0,-5 Z" transform="translate(826,685) rotate(15)" fill="#a9d8b3" stroke-width="1.3"/><path d="M0,-5 C4,-3 4.5,3 0,7 C-4.5,3 -4,-3 0,-5 Z" transform="translate(820,700) rotate(-10)" fill="#a9d8b3" stroke-width="1.3"/><path d="M0,-5 C4,-3 4.5,3 0,7 C-4.5,3 -4,-3 0,-5 Z" transform="translate(836,701) rotate(20)" fill="#a9d8b3" stroke-width="1.3"/><path d="M0,-5 C4,-3 4.5,3 0,7 C-4.5,3 -4,-3 0,-5 Z" transform="translate(843,692) rotate(-15)" fill="#a9d8b3" stroke-width="1.3"/>
<path d="M814.2,703.5 H843.7 C842,712 840,720 836,725.2 H822 C818,720 816,712 814.2,703.5 Z" fill="#7a4a26" stroke-width="1.8"/>
<path d="M887,725 V710 C887,703 893,698.6 898.5,698.6 C904,698.6 910,703 910,710 V725 Z" fill="#dbe07a" stroke-width="1.8"/>
<path d="M883,714 H887 V725 H883 Z M910,714 H914.5 V725 H910 Z" fill="#dbe07a" stroke-width="1.5"/>
<path d="M892,707 H905 M892,713 H905 V721 H892 Z" fill="none" stroke-width="1.4"/>
<path d="M860.4,626.8 L890.5,603.5 L920.8,626.8" fill="none" stroke-width="1.2"/><circle cx="890.5" cy="602.3" r="2" fill="#ffffff" stroke-width="1.3"/>
<rect x="860.4" y="626.8" width="60.4" height="41.3" fill="#ffffff" stroke-width="2"/>
<rect x="865.3" y="632.7" width="51" height="6" fill="#f2a0a4" stroke-width="1.3"/>
<path d="M865.3,643.6 H916.4 M865.3,649.9 H916.4 M865.3,656 H916.4 M865.3,661.8 H916.4" stroke-width="1.6"/>
<path d="M968.8,674.2 V656 C968.8,646 976,639.3 986.2,639.3 C996,639.3 1003.7,646 1003.7,656 V674.2 Z" fill="#f0c39a" stroke-width="2"/>
<path d="M931.3,648.3 H966.1 L967,669.7 H932 Z" fill="#eeeef2" stroke-width="1.7"/><circle cx="948.5" cy="659.5" r="2.2" fill="none" stroke-width="1.4"/>
<path d="M932,669.7 H977.5 V673.3 H932 Z" fill="#eeeef2" stroke-width="1.5"/>
<path d="M994,661.5 H1012.5 V667 H994 Z M994.5,667 H1012.5 V674 H994.5 Z M1014,668 H1029.5 V674 H1014 Z" fill="#e5e2da" stroke-width="1.4"/>
<rect x="917.9" y="674.2" width="96.5" height="46.4" fill="#c8bc9f" stroke-width="2"/>
<rect x="1014.4" y="674.2" width="31.3" height="46.4" fill="#c8bc9f" stroke-width="2"/>
<path d="M1014.4,686.3 H1045.7 M1014.4,697.4 H1045.7 M1027,678.5 H1032 M1027,690 H1032 M1027,701 H1032" stroke-width="1.6"/>
<path d="M922,720.6 L924,725 H930 L932,720.6 M970,720.6 V725 M995,720.6 V725 M1002,720.6 L1004,725 H1008 L1010,720.6 M1020,720.6 L1022,725 H1026 L1028,720.6 M1036,720.6 L1038,725 H1042 L1044,720.6" fill="#ffffff" stroke-width="1.5"/>
<rect x="1014.4" y="651" width="62.6" height="6.2" fill="#c8bc9f" stroke-width="1.8"/>
<rect x="1032.3" y="628" width="6.5" height="23" rx="1.5" fill="#f0c39a" stroke-width="1.5"/><rect x="1040.3" y="628" width="6.5" height="23" rx="1.5" fill="#f8c85a" stroke-width="1.5"/><path d="M1048.3,629 L1054.5,628 L1059,650.5 L1052.5,651 Z" fill="#ffffff" stroke-width="1.5"/>
<rect x="948.3" y="437" width="62.6" height="71" fill="#f29091" stroke-width="2"/>
<path d="M962.6,439.7 H994.3 C992,455 996,465 1002,471 C996,478 992,490 993,501.3 H966 C967,490 962,478 952,470 C958,464 964,452 962.6,439.7 Z" fill="#eaf6fa" stroke-width="1.8"/>
<path d="M978.7,439.7 V501.3 M957,470.5 H1000" stroke-width="1.8"/>
<path d="M956,447 C958,458 956,466 952,470 M1003,447 C1001,458 1002,466 1006,470 M955,476 C957,486 956,496 957,505 M1003,476 C1002,486 1002,496 1002,505" fill="none" stroke-width="1.3"/>
<path d="M912,541 C908,525 908,505 914,497 L920,494 C925,498 932,498 936,494 L942,496 C947,505 948,520 947.8,541 Z" fill="#a6d3ea" stroke="none"/>
<path d="M915,534 C915,530 925,527 945,526 L962,532 C967,540 968,552 967,560 L956,561 L954,545 C945,548 930,552 920,550 C914,548 913,540 915,534 Z" fill="#4d7fc7" stroke="none"/>
<path d="M955,560 L962,560 L964,570 L976,572 C979,575 978,578 975,579 L962,580 C956,578 955,570 955,560 Z M944,553 L950,556 L946,570 C944,575 942,576 940,574 C939,566 942,560 944,553 Z" fill="#ffffff" stroke-width="1.6"/>
<path d="M938,497 L952,494 L964,489 L964.5,514 L952,518.6 L940,516 Z" fill="#e1e37a" stroke-width="1.7"/><path d="M952,494 V518.6" stroke-width="1.3"/>
<path d="M925,518 C932,516 942,514 950,512 C952,514 952,518 948,519 L925,522 Z" fill="#ffffff" stroke-width="1.5"/>
<path d="M923,484 C923,489 922,492 920,494 C925,499 932,499 936,494 C934,490 934,486 934,482 Z" fill="#ffffff" stroke-width="1.5"/>
<path d="M920,476 C924,470 933,471 936,477 C937,484 935,490 929,491 C923,491 919,484 920,476 Z" fill="#ffffff" stroke-width="1.5"/>
<path d="M912,486 C906,474 912,466 922,466 C930,466 938,470 938,477 C932,474 926,476 922,480 C918,482 915,484 912,486 Z" fill="#2d2a4d" stroke="none"/>
<circle cx="913" cy="467" r="4.5" fill="#2d2a4d" stroke="none"/><circle cx="935" cy="466" r="4.5" fill="#2d2a4d" stroke="none"/>
</g>
<!--/SCENE_D-->
<!--SCENE_TXT-->
<g text-anchor="middle">
<g class="hd" font-size="14" fill="#524c9c" stroke="#524c9c" stroke-width="0.4">
<text x="530.5" y="261.4">Respectful</text>
<text x="531" y="276.5">Communication</text>
<text x="477" y="474.8">Role Models</text>
<text x="607" y="519.7">Real Connections</text>
</g>
<g class="scr" font-size="13.2" fill="#24232c">
<text x="530" y="292.3">Foster kind words and</text>
<text x="530" y="305.5">actions between</text>
<text x="530" y="318">parents and educators</text>
<text x="476.5" y="490">Show our children</text>
<text x="476.5" y="502.8">the skills and values</text>
<text x="476.5" y="515.3">they need for life</text>
<text x="606" y="535.8">Cultivate strong</text>
<text x="606" y="548.6">relationships and</text>
<text x="606" y="561.2">healthy habits in</text>
<text x="606" y="575">this digital age</text>
</g>
</g>
<!--/SCENE_TXT-->
<!-- footer -->
<g font-size="10.8" fill="#efe9f3" stroke="#efe9f3" stroke-width="0.35" text-anchor="end">
<text x="1085" y="743.7">A joint effort in 2024 by</text>
<text x="1085" y="754.5">the Ministry of Education and COMPASS</text>
</g>

<!-- column headings -->
<g text-anchor="middle">
<text class="hd" x="195" y="862.7" font-size="21.5" fill="#fdeedc" stroke="#fdeedc" stroke-width="0.9">Respectful Communication</text>
<text x="195" y="882" font-size="13.2" fill="#f5f1f4" stroke="#f5f1f4" stroke-width="0.45">Foster kind words and actions</text>
<text x="195" y="896.5" font-size="13.2" fill="#f5f1f4" stroke="#f5f1f4" stroke-width="0.45">between parents and educators</text>
<text class="hd" x="562.5" y="862.7" font-size="21.5" fill="#4f4b9b" stroke="#4f4b9b" stroke-width="0.9">Role Models</text>
<text x="562.5" y="882" font-size="13.2" fill="#2b2a33" stroke="#2b2a33" stroke-width="0.45">Show our children the skills and</text>
<text x="562.5" y="896.5" font-size="13.2" fill="#2b2a33" stroke="#2b2a33" stroke-width="0.45">values they need for life</text>
<text class="hd" x="932.5" y="862.7" font-size="21.5" fill="#fdeedc" stroke="#fdeedc" stroke-width="0.9">Real Connections</text>
<text x="932.5" y="882" font-size="13.2" fill="#f5f1f4" stroke="#f5f1f4" stroke-width="0.45">Cultivate strong relationships and</text>
<text x="932.5" y="896.5" font-size="13.2" fill="#f5f1f4" stroke="#f5f1f4" stroke-width="0.45">healthy habits in this digital age</text>
</g>

<!--COL1ILL-->
<g id="col1ill" stroke="#161521" stroke-width="2" stroke-linejoin="round" stroke-linecap="round">
<path d="M42,1140 C30,1108 27,1055 46,1018 C64,986 96,976 124,977 C160,978 176,1018 196,1032 C222,1048 268,1032 296,1050 C312,1062 318,1090 320,1189 L60,1189 Z" fill="#e8f5f9" stroke="none"/>
<path d="M160,956 C158,938 180,929 204,929 C232,929 248,942 246,958 C252,968 256,976 252,978 C240,974 230,978 215,982 C178,990 161,975 160,956 Z" fill="#e8f5f9" stroke="none"/>
<g fill="#7b8dc8" stroke="none"><circle cx="185.6" cy="957" r="3.3"/><circle cx="197.2" cy="957" r="3.3"/><circle cx="209" cy="957" r="3.3"/></g>
<path d="M137,1034 C150,1038 160,1030 175,1027 C205,1021 230,1030 230,1052 C230,1072 210,1080 186,1080 C160,1080 145,1068 144,1055 C143,1045 141,1040 137,1034 Z" fill="#ffffff" stroke="none"/>
<g fill="#7b8dc8" stroke="none"><circle cx="178" cy="1054.3" r="3.2"/><circle cx="189.3" cy="1054.3" r="3.2"/><circle cx="200.8" cy="1054.3" r="3.2"/></g>
<!-- left man -->
<path d="M38,1189.5 C36,1150 34,1100 44,1074 C52,1064 70,1060 84,1058 L120,1060 C132,1062 140,1068 143,1080 C147,1110 146,1160 144.6,1189.5 Z" fill="#d8636a" stroke="none"/>
<path d="M40,1127 C52,1158 90,1176 122,1187 C134,1190 142,1186 137,1179 C130,1172 118,1172 110,1168 C92,1156 80,1142 74,1126 Z" fill="#ffffff"/>
<path d="M82,1030 C84,1045 84,1055 80,1060 C88,1072 100,1078 110,1076 C116,1074 120,1066 122,1060 C118,1055 116,1046 116,1038 Z" fill="#ffffff"/>
<path d="M84,1004 C90,996 112,994 124,1000 C128,1012 128,1030 122,1040 C114,1046 100,1046 92,1038 C84,1030 82,1015 84,1004 Z" fill="#ffffff"/>
<path d="M72,1036 C62,1010 68,986 98,983 C118,982 132,988 128,1000 C126,1004 120,1004 112,1002 C104,1001 98,1006 96,1014 C92,1012 86,1012 84,1020 C84,1028 88,1032 90,1036 L80,1040 Z" fill="#2d2a4d" stroke="none"/>
<circle cx="86" cy="1020" r="5" fill="#ffffff" stroke="none"/>
<circle cx="108" cy="1018" r="1.2" fill="#161521" stroke="none"/><path d="M110,1016 C111,1020 110,1024 108,1025" fill="none" stroke-width="1.2"/><path d="M104,1030 C107,1035 112,1035 115,1030 Z" fill="#161521" stroke-width="1.2"/><path d="M62,990 C58,996 58,1004 62,1010 M58,996 C56,1000 56,1004 58,1008" fill="none" stroke-width="1.2"/><path d="M129,1014 L138,1011 M130,1020 L140,1020 M129,1026 L137,1030" fill="none" stroke-width="1.3"/>
<rect x="101" y="1095" width="58" height="67" rx="2" fill="#f9c95b" stroke="none"/>
<path d="M105,1100 V1160" stroke="#ffffff" stroke-width="3"/>
<path d="M148,1124 C158,1120 162,1130 161,1145 C160,1154 150,1156 147,1150 Z" fill="#ffffff"/>
<!-- right man -->
<path d="M208.4,1107.5 L232.7,1075.6 C245,1068 255,1066 262,1066 L292,1064 C305,1066 318,1070 324,1078 C334,1100 337,1140 337.5,1189.5 L223.6,1189.5 L223.6,1122 C220,1118 214,1116 208.4,1107.5 Z" fill="#2db35c" stroke="none"/>
<path d="M294,1146 C305,1150 318,1153 326,1152 L330,1189.5 L288,1189.5 C292,1175 294,1160 294,1146 Z" fill="#ffffff"/>
<path d="M223,1130 C205,1148 186,1158 172,1166 C165,1172 170,1182 182,1182 C198,1180 214,1172 224,1162 Z" fill="#ffffff"/>
<path d="M266,1038 C266,1050 262,1058 260,1066 C266,1078 276,1080 284,1076 C290,1070 292,1064 294,1062 C290,1054 288,1044 288,1036 Z" fill="#ffffff"/>
<path d="M256,1008 C262,998 280,996 290,1006 C294,1020 292,1036 286,1044 C278,1050 264,1048 258,1040 C252,1030 252,1016 256,1008 Z" fill="#ffffff"/>
<path d="M254,1007 L255,997 L261,1000 L264,989 L271,995 L277,987 L281,996 C292,998 302,1008 301,1024 C300,1034 297,1042 291,1046 L287,1022 C284,1014 276,1010 266,1012 C262,1011 258,1009 254,1007 Z" fill="#2d2a4d" stroke="none"/>
<circle cx="287" cy="1020" r="4.5" fill="#ffffff" stroke="none"/>
<circle cx="266" cy="1020" r="1.2" fill="#161521" stroke="none"/><path d="M264,1018 C262,1022 263,1025 266,1026" fill="none" stroke-width="1.2"/><path d="M260,1032 C263,1037 268,1037 271,1032 Z" fill="#161521" stroke-width="1.2"/><path d="M250,1003 L242,1000 M250,1012 L240,1012 M250,1020 L243,1024" fill="none" stroke-width="1.3"/>
<path d="M300,1022 C304,1030 312,1040 306,1046 C300,1050 306,1032 316,1034 C322,1036 320,1044 314,1044" fill="none" stroke-width="1.3"/><path d="M324,1036 C330,1038 332,1044 330,1050 M322,1046 C326,1048 328,1052 326,1056" fill="none" stroke-width="1.2"/>
</g>
<!--/COL1ILL-->
<!--COL2ILL-->
<g id="col2ill" stroke="#161521" stroke-width="2" stroke-linejoin="round" stroke-linecap="round">
<path d="M474,1189 L476,1110 C478,1060 515,1020 565,1020 C615,1020 655,1055 660,1100 L662,1189 Z" fill="#fbe9f1" stroke="none"/>
<path d="M565,953 C550,936 530,929 515,931 C497,934 493,952 500,963 C514,985 545,1002 568,1018 C590,1002 622,982 634,960 C643,940 636,921 615,922 C596,923 578,936 565,953 Z" fill="#f38aa7" stroke="none"/>
<path d="M507,979 L509,984 L514,986 L509,988 L507,993 L505,988 L500,986 L505,984 Z M651,952 L653,957 L658,959 L653,961 L651,966 L649,961 L644,959 L649,957 Z" fill="#f08ab0" stroke="none"/>
<path d="M494,944 C494,936 500,929 508,928 M499,944 C500,938 503,934 510,933 M641,923 C648,926 653,933 654,942 M644,929 C648,932 650,936 650,941" fill="none" stroke-width="1.3"/>
<!-- woman -->
<path d="M466,1003 C474,993 494,992 503,1002 C508,1010 505,1020 500,1030 L480,1030 C476,1040 482,1052 488,1062 C494,1072 500,1080 504,1092 L470,1094 C460,1100 448,1098 440,1092 C432,1096 420,1100 412,1095 C406,1088 412,1080 418,1076 C410,1070 412,1060 420,1056 C416,1046 420,1036 428,1032 C428,1020 440,1010 452,1008 C456,1004 460,1003 466,1003 Z" fill="#2d2a4d" stroke="none"/>
<path d="M476,1010 C486,1004 500,1008 503,1016 C506,1030 504,1042 496,1047 C486,1050 476,1046 472,1038 C468,1028 470,1016 476,1010 Z" fill="#ffffff"/>
<path d="M470,1004 C480,996 498,998 503,1010 C495,1008 486,1010 478,1016 L476,1030 C470,1026 466,1012 470,1004 Z" fill="#2d2a4d" stroke="none"/>
<circle cx="490" cy="1024" r="1.2" fill="#161521" stroke="none"/><circle cx="497" cy="1023" r="1.2" fill="#161521" stroke="none"/><path d="M487,1033 C489,1036 493,1036 495,1033" fill="none" stroke-width="1.4"/>
<path d="M494,1040 C500,1050 504,1060 512,1068 C506,1072 500,1072 494,1070 Z" fill="#2d2a4d" stroke="none"/>
<path d="M468,1040 C470,1052 468,1060 464,1066 C472,1078 486,1080 494,1074 C496,1068 496,1060 496,1050 Z" fill="#ffffff"/>
<path d="M535,1075 C545,1055 556,1035 560,1018 L563,1008 C566,1010 566,1016 568,1020 C572,1010 574,1008 576,1010 C578,1030 568,1060 555,1085 C550,1092 545,1095 540,1092 Z" fill="#ffffff"/>
<path d="M402.5,1145 C405,1110 410,1080 430,1070 C445,1064 460,1064 466,1066 C474,1078 486,1080 494,1074 C505,1068 520,1068 528,1066 L543,1105 C540,1110 530,1118 520,1122 L518,1188 L418,1188 C416,1170 414,1155 402.5,1145 Z" fill="#dde37a" stroke="none"/>
<path d="M416,1144 C425,1165 432,1180 436,1188 L452,1188 C448,1175 446,1160 445,1145 Z" fill="#ffffff"/>
<circle cx="476" cy="1026" r="3.5" fill="#ffffff" stroke="none"/>
<!-- man -->
<path d="M655,1032 C648,1012 660,1000 680,1001 C698,1002 704,1020 698,1040 C694,1048 686,1050 680,1048 Z" fill="#2d2a4d" stroke="none"/>
<path d="M651,1018 C660,1010 676,1012 682,1022 C686,1035 684,1050 676,1056 C666,1060 652,1056 648,1046 C645,1036 646,1024 651,1018 Z" fill="#ffffff"/>
<path d="M656,1005 C668,998 690,1000 698,1012 C704,1024 700,1042 690,1048 C686,1040 684,1030 680,1024 C672,1020 662,1018 652,1020 Z" fill="#2d2a4d" stroke="none"/>
<circle cx="684" cy="1030" r="4.5" fill="#ffffff" stroke="none"/><circle cx="660" cy="1030" r="1.2" fill="#161521" stroke="none"/><circle cx="667" cy="1030" r="1.2" fill="#161521" stroke="none"/><path d="M657,1040 C660,1044 665,1044 668,1040 Z" fill="#161521" stroke-width="1.2"/>
<path d="M660,1050 C662,1058 660,1064 656,1068 C664,1078 682,1080 688,1070 C686,1062 684,1054 684,1046 Z" fill="#ffffff"/>
<path d="M600,1080 C592,1055 586,1030 580,1015 C580,1008 582,1004 585,1008 C588,1004 592,1000 594,1004 C598,1025 605,1050 615,1068 Z" fill="#ffffff"/>
<path d="M591.7,1098 C596,1080 605,1068 625,1064 L650,1066 C660,1076 680,1078 690,1068 C705,1064 715,1066 722,1075 C728,1100 727,1140 726,1145 L715,1146 L712,1188 L612,1188 L614,1116 C605,1112 598,1106 591.7,1098 Z" fill="#ef80b1" stroke="none"/>
<path d="M712,1145 C702,1165 680,1178 658,1182 C648,1184 648,1188 650,1188 L700,1188 C712,1180 722,1160 726,1145 Z" fill="#ffffff"/>
</g>
<!--/COL2ILL-->
<!--COL3ILL-->
<g id="col3ill" stroke="#161521" stroke-width="2" stroke-linejoin="round" stroke-linecap="round">
<path d="M821,1189 C814,1140 828,1100 868,1088 C900,1080 940,1076 962,1058 C985,1030 1008,1018 1030,1019 C1068,1022 1092,1065 1087,1110 C1084,1145 1076,1170 1063,1189 Z" fill="#e3e0f2" stroke="none"/>
<circle cx="887.7" cy="963" r="36" fill="#e3e0f2" stroke="none"/>
<circle cx="1032" cy="966" r="35.5" fill="#e3e0f2" stroke="none"/>
<circle cx="825" cy="1051.5" r="35.5" fill="#e3e0f2" stroke="none"/>
<!-- palette -->
<path d="M852,950 C850,934 872,924 892,925 C912,926 922,938 918,950 C914,960 905,958 900,966 C895,974 888,980 875,978 C860,976 853,962 852,950 Z" fill="#ffffff"/>
<circle cx="865.5" cy="950" r="5" fill="#9fb1da" stroke-width="1.2"/>
<circle cx="877.5" cy="941.5" r="4.8" fill="#f08fc1" stroke-width="1.2"/>
<circle cx="891.5" cy="938.5" r="5" fill="#2fae5a" stroke-width="1.2"/>
<circle cx="904" cy="943" r="5" fill="#3a62b4" stroke-width="1.2"/>
<circle cx="871.5" cy="964.5" r="3.3" fill="none" stroke-width="1.4"/>
<path d="M883,995.5 L910,948" stroke-width="3.2"/>
<path d="M883,995.5 L910,948" stroke="#ffffff" stroke-width="1.2"/>
<!-- book -->
<path d="M1000,947 L1030,945 L1032,988 L1003,988 Z" fill="#ffffff"/>
<path d="M1032,988 L1034,945 L1063,941 L1064,984 Z" fill="#ffffff"/>
<path d="M1003,942 C1012,938 1024,938 1032,944 C1040,938 1052,936 1062,938" fill="none" stroke-width="1.5"/>
<path d="M1042,958 L1057,956 M1042,962 L1057,960" stroke="#2fae5a" stroke-width="1.8"/>
<path d="M1042,960 L1057,958" stroke="#3a62b4" stroke-width="1.8"/>
<!-- phone -->
<rect x="804" y="1015" width="36.5" height="60" rx="5" fill="#ffffff" stroke-width="2.4"/>
<rect x="808.5" y="1023" width="28" height="17" fill="#ffffff" stroke-width="1.3"/>
<rect x="808.5" y="1048" width="28" height="17" fill="#ffffff" stroke-width="1.3"/>
<path d="M812,1030 C816,1024 822,1032 826,1026 C830,1032 832,1026 834,1030 M815,1060 L830,1052 M820,1063 L826,1055" fill="none" stroke-width="1.1"/>
<rect x="820" y="1030" width="6" height="6" fill="#f08fc1" stroke="none"/>
<path d="M792,1040 V1053 M792,1040 L797,1038 M845,1015 V1026 M845,1015 L851,1014 V1024" fill="none" stroke-width="1.3"/>
<!-- girl -->
<path d="M922,1062 C912,1035 918,995 948,987 C972,982 986,1000 984,1025 C984,1045 986,1055 980,1058 L960,1058 Z" fill="#2d2a4d" stroke="none"/>
<path d="M939,1015 C945,1005 962,1000 976,1010 C980,1025 978,1040 970,1046 C958,1050 946,1046 940,1038 C936,1030 936,1022 939,1015 Z" fill="#ffffff"/>
<path d="M940,1005 C950,995 970,998 977,1008 L972,1012 C962,1010 950,1012 940,1020 Z" fill="#2d2a4d" stroke="none"/><circle cx="953" cy="1023" r="1.2" fill="#161521" stroke="none"/><circle cx="962" cy="1022" r="1.2" fill="#161521" stroke="none"/><path d="M952,1033 C955,1037 961,1037 964,1032" fill="none" stroke-width="1.4"/>
<path d="M948,1044 C950,1055 946,1064 940,1072 C950,1080 966,1080 972,1070 C970,1062 970,1054 970,1046 Z" fill="#ffffff"/>
<path d="M1000,1076 C1020,1068 1038,1056 1048,1042 C1050,1035 1055,1030 1058,1032 C1066,1028 1070,1038 1064,1046 C1055,1065 1035,1085 1012,1100 L1000,1100 Z" fill="#ffffff"/>
<path d="M1046,1013 L1053,1022 M1063,1010 L1061,1021 M1073,1025 L1087,1021" fill="none" stroke-width="1.3"/>
<path d="M914,1078 C896,1092 883,1118 885,1145 C887,1160 895,1168 906,1171 L914,1150 Z" fill="#e16a6b" stroke="none"/>
<path d="M893,1189 C896,1179 900,1170 904,1162 C930,1168 972,1168 1000,1160 L1002,1189 Z" fill="#6a3e16" stroke="none"/>
<path d="M926,1068 L946,1066 C952,1076 966,1076 972,1066 L992,1066 C998,1082 1000,1110 1000,1135 C1001,1146 1001,1155 1000,1160 C972,1168 940,1168 925,1164 Z" fill="#b0c4e9" stroke="none"/>
<path d="M985,1066 L1010,1066 C1012,1080 1013,1096 1013,1111 L995,1115 Z" fill="#b0c4e9" stroke="none"/>
<path d="M926,1067 C908,1068 899,1090 896.5,1124 L934,1122 L936,1070 Z" fill="#b0c4e9" stroke="none"/>
<path d="M930,1066 C942,1070 949,1092 947,1110 C946,1118 942,1125 934,1129 L932,1098 C931,1084 929,1074 925,1067 Z" fill="#e16a6b" stroke="none"/>
<path d="M970,1066 C984,1068 992,1090 994,1118 L994,1136 C988,1130 984,1116 982,1100 C980,1086 976,1073 970,1066 Z" fill="#e16a6b" stroke="none"/>
<path d="M946,1069 L960,1080 L974,1069 L973,1081 L964,1086 L957,1086 L948,1081 Z" fill="#6f92d0" stroke="none"/>
<rect x="960" y="1080" width="4.4" height="66" fill="#6f92d0" stroke="none"/>
<g fill="#ffffff" stroke="none"><circle cx="962.2" cy="1091" r="0.8"/><circle cx="962.2" cy="1104" r="0.8"/><circle cx="962.2" cy="1117" r="0.8"/><circle cx="962.2" cy="1129" r="0.8"/></g>
<path d="M901,1123 C902,1142 908,1160 920,1170 C925,1173 930,1170 929,1162 C927,1150 928,1135 930,1122 Z" fill="#ffffff"/>
</g>
<!--/COL3ILL-->
<!-- cards -->
<path d="M31,1599 V1202 Q31,1189 44,1189 H335 Q348,1189 348,1202 V1599 Z" fill="#fdf2e8"/>
<path d="M404.5,1599 V1202 Q404.5,1189 417.5,1189 H708.3 Q721.3,1189 721.3,1202 V1599 Z" fill="#fdf2e8"/>
<path d="M778,1599 V1202 Q778,1189 791,1189 H1082 Q1095,1189 1095,1202 V1599 Z" fill="#fdf2e8"/>
<!--CARDS-->
<g stroke="#f2dcc6" stroke-width="1.3">
<line x1="55.4" y1="1222.9" x2="328.7" y2="1222.9"/>
<line x1="55.4" y1="1246.5" x2="328.7" y2="1246.5"/>
<line x1="55.4" y1="1270.1" x2="328.7" y2="1270.1"/>
<line x1="55.4" y1="1293.7" x2="328.7" y2="1293.7"/>
<line x1="55.4" y1="1317.3" x2="328.7" y2="1317.3"/>
<line x1="55.4" y1="1340.9" x2="328.7" y2="1340.9"/>
<line x1="55.4" y1="1364.5" x2="328.7" y2="1364.5"/>
<line x1="55.4" y1="1388.1" x2="328.7" y2="1388.1"/>
<line x1="55.4" y1="1411.7" x2="328.7" y2="1411.7"/>
<line x1="55.4" y1="1435.3" x2="328.7" y2="1435.3"/>
<line x1="55.4" y1="1458.9" x2="328.7" y2="1458.9"/>
<line x1="55.4" y1="1482.5" x2="328.7" y2="1482.5"/>
<line x1="55.4" y1="1506.1" x2="328.7" y2="1506.1"/>
<line x1="55.4" y1="1529.7" x2="328.7" y2="1529.7"/>
<line x1="55.4" y1="1553.3" x2="328.7" y2="1553.3"/>
<line x1="55.4" y1="1576.9" x2="328.7" y2="1576.9"/>
<line x1="426" y1="1222.9" x2="699.4" y2="1222.9"/>
<line x1="426" y1="1246.5" x2="699.4" y2="1246.5"/>
<line x1="426" y1="1270.1" x2="699.4" y2="1270.1"/>
<line x1="426" y1="1293.7" x2="699.4" y2="1293.7"/>
<line x1="426" y1="1317.3" x2="699.4" y2="1317.3"/>
<line x1="426" y1="1340.9" x2="699.4" y2="1340.9"/>
<line x1="426" y1="1364.5" x2="699.4" y2="1364.5"/>
<line x1="426" y1="1388.1" x2="699.4" y2="1388.1"/>
<line x1="426" y1="1411.7" x2="699.4" y2="1411.7"/>
<line x1="426" y1="1435.3" x2="699.4" y2="1435.3"/>
<line x1="426" y1="1458.9" x2="699.4" y2="1458.9"/>
<line x1="426" y1="1482.5" x2="699.4" y2="1482.5"/>
<line x1="426" y1="1506.1" x2="699.4" y2="1506.1"/>
<line x1="426" y1="1529.7" x2="699.4" y2="1529.7"/>
<line x1="426" y1="1553.3" x2="699.4" y2="1553.3"/>
<line x1="426" y1="1576.9" x2="699.4" y2="1576.9"/>
<line x1="799.3" y1="1222.9" x2="1072.9" y2="1222.9"/>
<line x1="799.3" y1="1246.5" x2="1072.9" y2="1246.5"/>
<line x1="799.3" y1="1270.1" x2="1072.9" y2="1270.1"/>
<line x1="799.3" y1="1293.7" x2="1072.9" y2="1293.7"/>
<line x1="799.3" y1="1317.3" x2="1072.9" y2="1317.3"/>
<line x1="799.3" y1="1340.9" x2="1072.9" y2="1340.9"/>
<line x1="799.3" y1="1364.5" x2="1072.9" y2="1364.5"/>
<line x1="799.3" y1="1388.1" x2="1072.9" y2="1388.1"/>
<line x1="799.3" y1="1411.7" x2="1072.9" y2="1411.7"/>
<line x1="799.3" y1="1435.3" x2="1072.9" y2="1435.3"/>
<line x1="799.3" y1="1458.9" x2="1072.9" y2="1458.9"/>
<line x1="799.3" y1="1482.5" x2="1072.9" y2="1482.5"/>
<line x1="799.3" y1="1506.1" x2="1072.9" y2="1506.1"/>
<line x1="799.3" y1="1529.7" x2="1072.9" y2="1529.7"/>
<line x1="799.3" y1="1553.3" x2="1072.9" y2="1553.3"/>
<line x1="799.3" y1="1576.9" x2="1072.9" y2="1576.9"/>
</g>
<g class="bl">
<circle cx="68.6" cy="1214.6" r="2.5" fill="#252a2a" stroke="none"/>
<text x="76" y="1219.3">Listen to and understand each other’s</text>
<text x="76" y="1241.9">perspectives and concerns regarding</text>
<text x="76" y="1264.5">each child.</text>
<circle cx="68.6" cy="1309.0" r="2.5" fill="#252a2a" stroke="none"/>
<text x="76" y="1313.7">Communicate kindly using official</text>
<text x="76" y="1336.3">channels. Teachers are not required to</text>
<text x="76" y="1358.9">share their personal mobile numbers.</text>
<circle cx="68.6" cy="1403.4" r="2.5" fill="#252a2a" stroke="none"/>
<text x="76" y="1408.1">Respect each other’s time by</text>
<text x="76" y="1430.7">communicating during working hours.</text>
<circle cx="432" cy="1214.6" r="2.5" fill="#252a2a" stroke="none"/>
<text x="444.7" y="1219.3">Practise gratitude and find joy in everyday</text>
<text x="444.7" y="1241.9">experiences with our children.</text>
<circle cx="432" cy="1285.4" r="2.5" fill="#252a2a" stroke="none"/>
<text x="444.7" y="1290.1">Instil confidence by encouraging</text>
<text x="444.7" y="1312.7">responsibility and believing in each</text>
<text x="444.7" y="1335.3">child's abilities.</text>
<circle cx="432" cy="1379.8" r="2.5" fill="#252a2a" stroke="none"/>
<text x="444.7" y="1384.5">Model good values in words and actions,</text>
<text x="444.7" y="1407.1">at school and at home.</text>
<circle cx="802" cy="1214.6" r="2.5" fill="#252a2a" stroke="none"/>
<text x="811.5" y="1219.3">Build strong bonds through shared</text>
<text x="811.5" y="1241.9">experiences and meaningful conversations.</text>
<circle cx="802" cy="1285.4" r="2.5" fill="#252a2a" stroke="none"/>
<text x="811.5" y="1290.1">Establish good habits for our children to</text>
<text x="811.5" y="1312.7">stay confident and in control of their</text>
<text x="811.5" y="1335.3">technology use.</text>
<circle cx="802" cy="1379.8" r="2.5" fill="#252a2a" stroke="none"/>
<text x="811.5" y="1384.5">Provide a balanced mix of engaging online</text>
<text x="811.5" y="1407.1">and offline activities, at school and at home.</text>
</g>
<!--/CARDS-->

</svg>
</body></html>
